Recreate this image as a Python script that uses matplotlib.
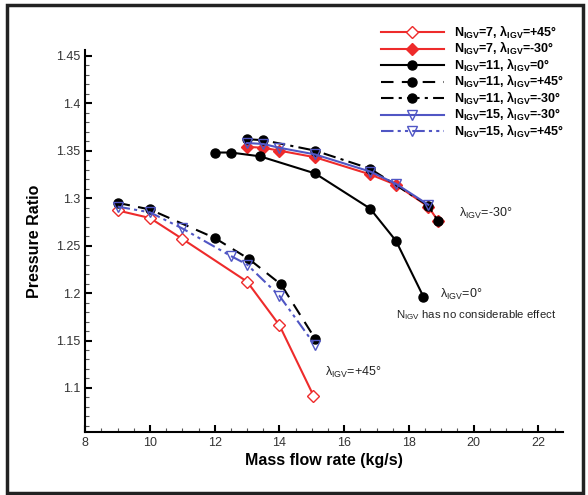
import numpy as np
import matplotlib
matplotlib.use("Agg")
import matplotlib.pyplot as plt
from matplotlib.ticker import MultipleLocator, FuncFormatter
from matplotlib.patches import Rectangle

plt.rcParams['font.family'] = ['Liberation Sans', 'DejaVu Sans']
plt.rcParams['mathtext.fontset'] = 'custom'
plt.rcParams['mathtext.rm'] = 'Liberation Sans'
plt.rcParams['mathtext.bf'] = 'Liberation Sans:bold'

# data (mass flow kg/s, pressure ratio)
flow_n7_p45 = [9, 10, 11, 13, 14, 15.05]
pr_n7_p45 = [1.287, 1.279, 1.257, 1.212, 1.166, 1.092]

flow_n7_m30 = [13, 13.5, 14, 15.1, 16.8, 17.6, 18.6, 18.9]
pr_n7_m30 = [1.354, 1.353, 1.350, 1.343, 1.325, 1.314, 1.291, 1.276]

flow_n11_0 = [12, 12.5, 13.4, 15.1, 16.8, 17.6, 18.45]
pr_n11_0 = [1.348, 1.348, 1.344, 1.326, 1.289, 1.255, 1.196]

flow_n11_p45 = [9, 10, 12, 13.05, 14.05, 15.1]
pr_n11_p45 = [1.295, 1.288, 1.258, 1.236, 1.209, 1.152]

flow_n11_m30 = [13, 13.5, 15.1, 16.8, 18.6, 18.9]
pr_n11_m30 = [1.362, 1.361, 1.350, 1.331, 1.292, 1.276]

flow_n15_m30 = [13, 13.5, 14, 15.1, 16.8, 17.6, 18.6]
pr_n15_m30 = [1.358, 1.357, 1.353, 1.346, 1.328, 1.315, 1.293]

flow_n15_p45 = [9, 10, 11, 12.5, 13, 14, 15.1]
pr_n15_p45 = [1.291, 1.285, 1.268, 1.239, 1.230, 1.197, 1.145]

labels = [
    r'N$_{\mathregular{IGV}}$=7, λ$_{\mathregular{IGV}}$=+45°',
    r'N$_{\mathregular{IGV}}$=7, λ$_{\mathregular{IGV}}$=-30°',
    r'N$_{\mathregular{IGV}}$=11, λ$_{\mathregular{IGV}}$=0°',
    r'N$_{\mathregular{IGV}}$=11, λ$_{\mathregular{IGV}}$=+45°',
    r'N$_{\mathregular{IGV}}$=11, λ$_{\mathregular{IGV}}$=-30°',
    r'N$_{\mathregular{IGV}}$=15, λ$_{\mathregular{IGV}}$=-30°',
    r'N$_{\mathregular{IGV}}$=15, λ$_{\mathregular{IGV}}$=+45°',
]

red = '#ee2b2b'
blue = '#5056c4'

fig = plt.figure(figsize=(5.88, 4.95), dpi=100)
ax = fig.add_axes([0.145, 0.128, 0.813, 0.771])

ax.plot(flow_n7_p45, pr_n7_p45, '-', color=red, lw=1.5, marker='D', ms=6,
        mfc='white', mec=red, mew=1.0, label=labels[0])
ax.plot(flow_n7_m30, pr_n7_m30, '-', color=red, lw=1.5, marker='D', ms=6,
        mfc=red, mec=red, label=labels[1])
ax.plot(flow_n11_0, pr_n11_0, '-', color='black', lw=1.5, marker='o', ms=6.5,
        label=labels[2])
ax.plot(flow_n11_p45, pr_n11_p45, color='black', lw=1.5, ls=(0, (6, 4)),
        marker='o', ms=6.5, label=labels[3])
ax.plot(flow_n11_m30, pr_n11_m30, color='black', lw=1.5, ls=(0, (6, 2.5, 1.5, 2.5)),
        marker='o', ms=6.5, label=labels[4])
ax.plot(flow_n15_m30, pr_n15_m30, '-', color=blue, lw=1.5, marker='v', ms=7.5,
        mfc='none', mec=blue, label=labels[5])
ax.plot(flow_n15_p45, pr_n15_p45, color=blue, lw=1.5,
        ls=(0, (6, 2, 1.5, 2, 1.5, 2)), marker='v', ms=7.5,
        mfc='none', mec=blue, label=labels[6])

ax.set_xlim(8, 22.77)
ax.set_ylim(1.054, 1.456)
ax.xaxis.set_major_locator(MultipleLocator(2))
ax.xaxis.set_minor_locator(MultipleLocator(0.5))
ax.yaxis.set_major_locator(MultipleLocator(0.05))
ax.yaxis.set_minor_locator(MultipleLocator(0.01))
ax.yaxis.set_major_formatter(FuncFormatter(lambda v, p: f'{v:g}' if v >= 1.09 else ''))
ax.xaxis.set_major_formatter(FuncFormatter(lambda v, p: f'{v:g}'))

for s in ['top', 'right']:
    ax.spines[s].set_visible(False)
for s in ['left', 'bottom']:
    ax.spines[s].set_linewidth(1.5)
ax.tick_params(which='major', direction='in', length=5, width=1.5,
               labelsize=9, labelcolor='#333333')
ax.tick_params(which='minor', direction='in', length=3, width=0.8, color='#555555')

ax.set_xlabel('Mass flow rate (kg/s)', fontsize=11.5, fontweight='bold', labelpad=3)
ax.set_ylabel('Pressure Ratio', fontsize=11.5, fontweight='bold', labelpad=10)

ax.text(19.55, 1.284, r'λ$_{\mathregular{IGV}}$=-30°', fontsize=9, va='center', color='#222222')
ax.text(18.95, 1.198, r'λ$_{\mathregular{IGV}}$=0°', fontsize=9, va='center', color='#222222')
ax.text(17.6, 1.177, r'N$_{\mathregular{IGV}}$ has no considerable effect', fontsize=8.2,
        va='center', color='#222222')
ax.text(15.4, 1.116, r'λ$_{\mathregular{IGV}}$=+45°', fontsize=9, va='center', color='#222222')

leg = fig.legend(loc='upper left', bbox_to_anchor=(0.648, 0.952), frameon=False,
                 prop={'size': 9, 'weight': 'bold'}, handlelength=5.0,
                 handletextpad=0.8, labelspacing=-0.05, borderpad=0, borderaxespad=0)

fig.patches.append(Rectangle((0.012, 0.004), 0.979, 0.986, transform=fig.transFigure,
                             fill=False, edgecolor='#222222', linewidth=2.5))

fig.savefig('out.png', dpi=100)
